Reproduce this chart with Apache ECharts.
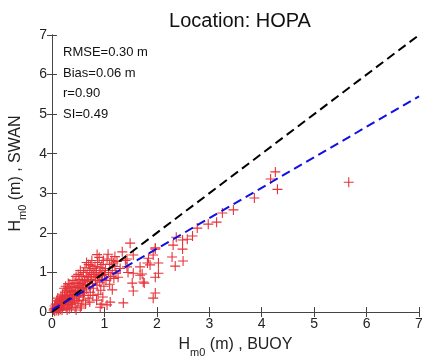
<!DOCTYPE html>
<html>
<head>
<meta charset="utf-8">
<script src="https://cdn.jsdelivr.net/npm/echarts@6/dist/echarts.min.js"></script>
<style>html,body{margin:0;padding:0;background:#fff}#c{width:422px;height:361px}</style>
</head>
<body>
<div id="c"></div>
<script>
const titleText = 'Location: HOPA';
const statsLines = ['RMSE=0.30 m', 'Bias=0.06 m', 'r=0.90', 'SI=0.49'];
const axisTicks = [0, 1, 2, 3, 4, 5, 6, 7];
const oneToOne = [[0, 0], [7, 7]];
const fitLine = [[0, 0.06], [7, 5.45]];
const buoySwan = [
  [0.03,0.05],[0.05,0.02],[0.06,0.1],[0.08,0.04],[0.1,0.15],[0.1,0.08],[0.12,0.2],[0.12,0.03],[0.14,0.12],[0.15,0.25],
  [0.16,0.07],[0.18,0.18],[0.18,0.3],[0.2,0.1],[0.2,0.22],[0.05,0.15],[0.07,0.2],[0.09,0.28],[0.11,0.35],[0.13,0.05],
  [0.15,0.15],[0.17,0.4],[0.19,0.05],[0.04,0.08],[0.08,0.12],[0.14,0.3],[0.16,0.2],[0.2,0.35],[0.2,0.45],
  [0.22,0.3],[0.22,0.15],[0.24,0.4],[0.24,0.2],[0.25,0.5],[0.26,0.28],[0.27,0.1],[0.28,0.35],[0.28,0.55],[0.3,0.25],
  [0.3,0.42],[0.3,0.6],[0.32,0.32],[0.32,0.18],[0.33,0.5],[0.34,0.7],[0.35,0.4],[0.35,0.28],[0.36,0.55],[0.37,0.12],
  [0.38,0.45],[0.38,0.65],[0.4,0.35],[0.4,0.52],[0.4,0.8],[0.23,0.6],[0.26,0.65],[0.29,0.05],[0.31,0.72],[0.33,0.08],
  [0.36,0.2],[0.39,0.25],
  [0.42,0.45],[0.42,0.62],[0.43,0.3],[0.44,0.75],[0.45,0.55],[0.46,0.9],[0.47,0.4],[0.48,0.65],[0.48,0.22],[0.5,0.5],
  [0.5,0.72],[0.5,0.95],[0.52,0.38],[0.52,0.6],[0.53,0.82],[0.54,1.05],[0.55,0.48],[0.55,0.68],[0.56,0.15],[0.57,0.9],
  [0.58,0.55],[0.58,0.75],[0.6,0.62],[0.6,1.0],[0.6,0.42],[0.44,0.12],[0.46,0.05],[0.51,0.28],[0.54,0.1],[0.59,0.3],
  [0.62,0.8],[0.62,0.5],[0.63,1.12],[0.64,0.7],[0.65,0.9],[0.66,0.58],[0.67,1.0],[0.68,0.78],[0.69,0.35],[0.7,0.88],
  [0.7,1.2],[0.71,0.65],[0.72,1.05],[0.73,0.5],[0.74,0.82],[0.75,0.95],[0.76,1.3],[0.77,0.72],[0.78,1.1],[0.79,0.6],
  [0.8,0.9],[0.8,1.0],[0.64,0.2],[0.72,0.25],[0.78,0.42],[0.66,1.25],[0.74,1.18],
  [0.82,1.15],[0.83,0.8],[0.84,0.95],[0.85,1.05],[0.86,0.68],[0.87,1.25],[0.88,0.88],[0.9,1.0],[0.9,1.38],[0.91,0.75],
  [0.92,1.12],[0.93,0.55],[0.94,0.92],[0.95,1.2],[0.96,0.82],[0.97,1.05],[0.98,1.3],[0.99,0.65],[1.0,0.95],[0.85,0.3],
  [0.92,0.12],[0.95,0.2],[0.88,0.45],[0.97,0.38],[0.86,1.45],
  [1.02,1.1],[1.03,0.8],[1.05,1.34],[1.05,0.18],[1.07,1.46],[1.08,1.0],[1.1,1.2],[1.1,0.7],[1.11,0.25],[1.12,0.9],
  [1.14,1.3],[1.15,0.56],[1.15,1.05],[1.17,1.24],[1.18,0.85],[1.2,1.15],[1.2,1.4],[1.22,0.98],[1.24,1.28],[1.26,0.88],
  [1.3,1.1],[1.34,1.52],[1.36,0.23],[1.4,1.3],[1.43,1.34],[1.43,1.14],[1.45,1.0],[1.49,1.74],[1.53,0.73],[1.55,1.44],
  [1.55,0.53],[1.55,0.98],[1.68,0.93],[1.68,1.14],[1.72,0.96],[1.74,0.76],[1.76,0.73],[1.82,1.24],[1.84,1.36],[1.87,1.19],
  [1.93,1.44],[1.93,0.35],[1.97,0.48],[1.97,1.59],[1.97,0.88],[2.03,1.24],[2.03,0.98],[1.97,1.62],
  [2.31,1.69],[2.29,1.39],[2.35,1.16],[2.49,1.59],[2.5,1.29],[2.37,1.89],[2.49,1.82],[2.58,1.84],[2.68,1.92],[2.77,2.12],
  [2.98,2.22],[3.14,2.27],[3.25,2.5],[3.46,2.58],[3.86,2.88],[4.17,3.36],[4.26,3.54],[4.3,3.1],[5.66,3.28]
];

const FONT = '"Liberation Sans", Arial, sans-serif';
const chart = echarts.init(document.getElementById('c'), null, {renderer: 'canvas'});
const nameRich = {
  a: {fontSize: 16, fontFamily: FONT, color: '#222', lineHeight: 16, verticalAlign: 'top'},
  b: {fontSize: 11, fontFamily: FONT, color: '#222', lineHeight: 11, verticalAlign: 'top', padding: [10, 0, 0, 0]}
};
const axisCommon = {
  min: axisTicks[0], max: axisTicks[axisTicks.length - 1], interval: 1,
  axisLine: {show: true, lineStyle: {color: '#444', width: 1}},
  axisTick: {show: true, inside: true, length: 5, lineStyle: {color: '#444'}},
  splitLine: {show: false},
  axisLabel: {fontSize: 14, fontFamily: FONT, color: '#222', margin: 5}
};
chart.setOption({
  animation: false,
  backgroundColor: '#fff',
  title: {text: titleText, left: 235, textAlign: 'center', top: 6,
    textStyle: {fontSize: 20, fontWeight: 'normal', fontFamily: FONT, color: '#111'}},
  grid: {left: 52, right: 3, top: 35, bottom: 49, containLabel: false, outerBoundsMode: 'none'},
  xAxis: [
    Object.assign({}, axisCommon, {type: 'value', position: 'bottom',
      name: '{a|H}{b|m0}{a| (m) , BUOY}', nameLocation: 'middle', nameGap: 25,
      nameTextStyle: {rich: nameRich}}),
    Object.assign({}, axisCommon, {type: 'value', position: 'top', axisLabel: {show: false}})
  ],
  yAxis: [
    Object.assign({}, axisCommon, {type: 'value', position: 'left',
      name: '{a|H}{b|m0}{a| (m) , SWAN}', nameLocation: 'middle', nameGap: 24, nameRotate: 90,
      nameTextStyle: {rich: nameRich}}),
    Object.assign({}, axisCommon, {type: 'value', position: 'right', axisLabel: {show: false}})
  ],
  graphic: statsLines.map((t, i) => ({
    type: 'text', left: 63, top: 46 + i * 20.5,
    style: {text: t, fontSize: 13, fontFamily: FONT, fill: '#111'}
  })),
  series: [
    {type: 'scatter', data: buoySwan, symbol: 'path://M5,0L5,10M0,5L10,5', symbolSize: 10,
      itemStyle: {color: 'rgba(0,0,0,0)', borderColor: '#e5333a', borderWidth: 1.1, opacity: 1}, z: 2},
    {type: 'line', data: oneToOne, symbol: 'none', z: 3,
      lineStyle: {color: '#000', width: 2, type: [9, 5]}},
    {type: 'line', data: fitLine, symbol: 'none', z: 4,
      lineStyle: {color: '#1010e0', width: 2, type: [9, 5]}}
  ]
});
</script>
</body>
</html>
